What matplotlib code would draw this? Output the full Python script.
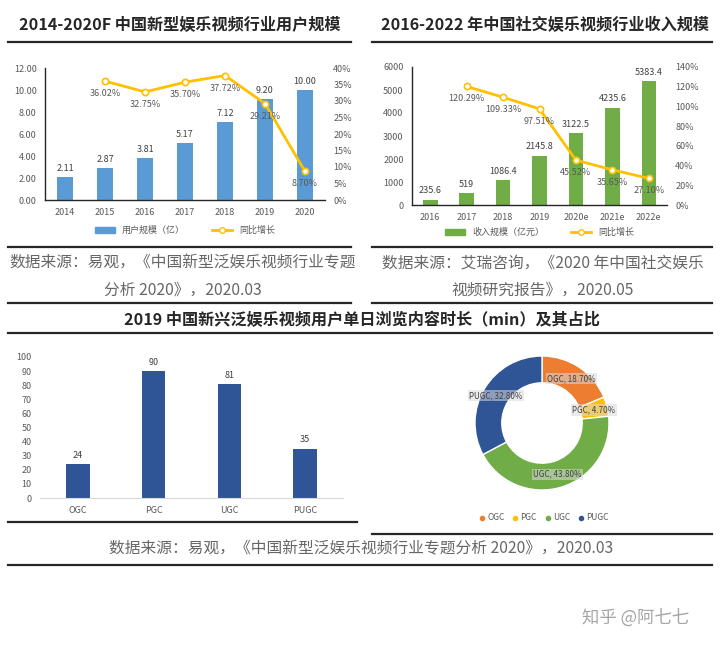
import numpy as np
import matplotlib
matplotlib.use("Agg")
import matplotlib.pyplot as plt
from matplotlib.lines import Line2D
from matplotlib.patches import Patch

plt.rcParams['font.family'] = ['Noto Sans CJK SC', 'DejaVu Sans']

# ---- data ----
users_years = ["2014", "2015", "2016", "2017", "2018", "2019", "2020"]
users = [2.11, 2.87, 3.81, 5.17, 7.12, 9.20, 10.00]
users_growth = [None, 0.3602, 0.3275, 0.3570, 0.3772, 0.2921, 0.0870]

rev_years = ["2016", "2017", "2018", "2019", "2020e", "2021e", "2022e"]
revenue = [235.6, 519, 1086.4, 2145.8, 3122.5, 4235.6, 5383.4]
rev_growth = [None, 1.2029, 1.0933, 0.9751, 0.4552, 0.3565, 0.2710]

content_types = ["OGC", "PGC", "UGC", "PUGC"]
minutes = [24, 90, 81, 35]
share = [18.70, 4.70, 43.80, 32.80]

W, H = 720, 647
fig = plt.figure(figsize=(W / 100, H / 100), dpi=100)
DARK = "#262626"; GRAY = "#595959"; YEL = "#FFC000"


def px_axes(l, t, r, b):
    return fig.add_axes([l / W, 1 - b / H, (r - l) / W, (b - t) / H])


def hline(x1, x2, y, lw=1.6):
    fig.add_artist(Line2D([x1 / W, x2 / W], [1 - y / H] * 2, transform=fig.transFigure,
                          color=DARK, lw=lw))


def ftext(x, y, s, **kw):
    fig.text(x / W, 1 - y / H, s, ha="center", va="center", **kw)


def combo(ax, cats, vals, growth, bar_color, ymax, ystep, rmax, rstep, fmt, rfmt):
    x = np.arange(len(cats))
    ax.bar(x, vals, width=0.4, color=bar_color, zorder=2)
    for xi, v in zip(x, vals):
        ax.annotate(fmt(v), (xi, v), xytext=(0, 3), textcoords="offset points",
                    ha="center", va="bottom", fontsize=6.5, color="#404040")
    ax.set_xlim(-0.5, len(cats) - 0.5); ax.set_ylim(0, ymax)
    ax.set_yticks(np.arange(0, ymax + ystep / 2, ystep))
    ax.set_xticks(x, cats)
    ax.tick_params(length=0, labelsize=6.5, labelcolor=GRAY, pad=6)
    for s in ["top", "right"]:
        ax.spines[s].set_visible(False)
    for s in ["left", "bottom"]:
        ax.spines[s].set_color(DARK); ax.spines[s].set_linewidth(1.0)
    ax2 = ax.twinx()
    gx = [xi for xi, g in zip(x, growth) if g is not None]
    gv = [g for g in growth if g is not None]
    ax2.plot(gx, gv, color=YEL, lw=2, marker="o", ms=4.5, mfc="white", mec=YEL, mew=1.2, zorder=3)
    for xi, g in zip(gx, gv):
        ax2.annotate(rfmt(g), (xi, g), xytext=(0, -9), textcoords="offset points",
                     ha="center", va="center", fontsize=6.5, color=GRAY)
    ax2.set_ylim(0, rmax)
    ax2.set_yticks(np.arange(0, rmax + rstep / 2, rstep))
    ax2.set_yticklabels([f"{t * 100:.0f}%" for t in ax2.get_yticks()])
    ax2.tick_params(length=0, labelsize=6.5, labelcolor=GRAY, pad=6)
    for s in ax2.spines.values():
        s.set_visible(False)
    return ax2


# ---- top-left ----
ftext(180, 25, "2014-2020F 中国新型娱乐视频行业用户规模", fontsize=11.6, fontweight="bold", color=DARK)
hline(8, 351, 42)
ax = px_axes(45, 68, 325, 200)
combo(ax, users_years, users, users_growth, "#5B9BD5", 12, 2, 0.40, 0.05,
      lambda v: f"{v:.2f}", lambda g: f"{g * 100:.2f}%")
ax.set_yticklabels([f"{t:.2f}" for t in ax.get_yticks()])
ax.legend(handles=[Patch(color="#5B9BD5", label="用户规模（亿）"),
                   Line2D([], [], color=YEL, lw=2, marker="o", ms=4, mfc="white", mec=YEL,
                          label="同比增长")],
          loc="center", bbox_to_anchor=(0.5, -0.23), ncol=2, frameon=False, fontsize=6.5,
          handlelength=2.2, handleheight=0.6, columnspacing=3, labelcolor=GRAY)
hline(8, 351, 247)
ftext(183, 263, "数据来源：易观，《中国新型泛娱乐视频行业专题", fontsize=11.3, color="#666666", style="italic")
ftext(183, 290, "分析 2020》，2020.03", fontsize=11.3, color="#666666", style="italic")
hline(8, 351, 303)

# ---- top-right ----
ftext(545, 25, "2016-2022 年中国社交娱乐视频行业收入规模", fontsize=11.6, fontweight="bold", color=DARK)
hline(372, 712, 42)
ax = px_axes(412, 67, 667, 205)
combo(ax, rev_years, revenue, rev_growth, "#70AD47", 6000, 1000, 1.40, 0.20,
      lambda v: f"{v:g}", lambda g: f"{g * 100:.2f}%")
ax.legend(handles=[Patch(color="#70AD47", label="收入规模（亿元）"),
                   Line2D([], [], color=YEL, lw=2, marker="o", ms=4, mfc="white", mec=YEL,
                          label="同比增长")],
          loc="center", bbox_to_anchor=(0.5, -0.2), ncol=2, frameon=False, fontsize=6.5,
          handlelength=2.2, handleheight=0.6, columnspacing=3, labelcolor=GRAY)
hline(372, 712, 247)
ftext(543, 263, "数据来源：艾瑞咨询，《2020 年中国社交娱乐", fontsize=11.3, color="#666666", style="italic")
ftext(543, 290, "视频研究报告》，2020.05", fontsize=11.3, color="#666666", style="italic")
hline(372, 712, 303)

# ---- bottom ----
ftext(362, 320, "2019 中国新兴泛娱乐视频用户单日浏览内容时长（min）及其占比",
      fontsize=11.6, fontweight="bold", color=DARK)
hline(8, 712, 333)

ax = px_axes(40, 357, 343, 498)
xb = np.arange(len(content_types))
ax.bar(xb, minutes, width=0.31, color="#2F5597", zorder=2)
for xi, v in zip(xb, minutes):
    ax.annotate(f"{v}", (xi, v), xytext=(0, 3), textcoords="offset points",
                ha="center", va="bottom", fontsize=6.5, color="#404040")
ax.set_xlim(-0.5, 3.5); ax.set_ylim(0, 100)
ax.set_yticks(np.arange(0, 101, 10))
ax.set_xticks(xb, content_types)
ax.tick_params(length=0, labelsize=6.5, labelcolor=GRAY, pad=6)
for s in ["top", "right", "left"]:
    ax.spines[s].set_visible(False)
ax.spines["bottom"].set_color("#D9D9D9")
hline(8, 357, 522)

ax = px_axes(475, 356, 609, 490)
colors = ["#ED7D31", "#FFC000", "#70AD47", "#2F5597"]
wedges, _ = ax.pie(share, colors=colors, startangle=90, counterclock=False, radius=1,
                   wedgeprops=dict(width=0.4, edgecolor="white", linewidth=1))
ax.set_xlim(-1, 1); ax.set_ylim(-1, 1); ax.set_aspect("equal")
for w, name, s in zip(wedges, content_types, share):
    ang = np.deg2rad((w.theta1 + w.theta2) / 2)
    ax.text(0.8 * np.cos(ang), 0.8 * np.sin(ang), f"{name}, {s:.2f}%", ha="center", va="center",
            fontsize=5.8, color="#404040",
            bbox=dict(boxstyle="square,pad=0.15", fc="#D9D9D9", ec="none", alpha=0.55))
fig.legend(handles=[Line2D([], [], ls="", marker="o", ms=3, color=c, label=n)
                    for c, n in zip(colors, content_types)],
           loc="center", bbox_to_anchor=(544 / W, 1 - 518 / H), ncol=4, frameon=False,
           fontsize=6, handlelength=0.6, handletextpad=0.3, columnspacing=1.0, labelcolor=GRAY)
hline(372, 712, 534)

ftext(361, 549, "数据来源：易观，《中国新型泛娱乐视频行业专题分析 2020》，2020.03",
      fontsize=11.3, color="#666666", style="italic")
hline(8, 712, 565)

ftext(636, 618, "知乎 @阿七七", fontsize=12.5, color="#A6A6A6")

fig.savefig("out.png", dpi=100)
